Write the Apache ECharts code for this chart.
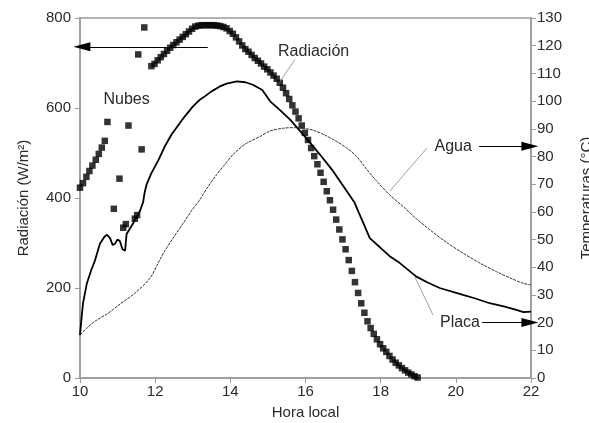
<!DOCTYPE html>
<html><head><meta charset="utf-8">
<script src="https://cdn.jsdelivr.net/npm/echarts@6/dist/echarts.min.js"></script>
<style>html,body{margin:0;padding:0;background:#fff}#c{width:589px;height:423px}</style>
</head><body><div id="c"></div>
<script>
// ---- data ----
const radMorning = [[10.0,423],[10.08,433],[10.17,447],[10.25,460],[10.33,472],[10.42,485],[10.5,498],[10.58,512],[10.66,527]];
const radClouds = [[10.73,569],[10.9,376],[11.05,443],[11.15,334],[11.22,342],[11.29,561],[11.46,354],[11.52,362],[11.55,719],[11.64,508],[11.71,779]];
const radAfternoonStart = 11.9;      // first reading of the continuous afternoon series
const radAfternoonStep = 5 / 60;     // readings every 5 minutes
const radAfternoon = [693,698,706,713,720,727,734,740,746,752,758,764,770,776,781,783,784,784,784,784,784,783,782,780,777,771,765,757,748,739,731,725,718,711,705,699,692,686,679,672,665,656,645,633,620,606,592,577,561,545,529,511,493,475,456,436,415,395,374,352,330,308,286,262,238,213,189,166,145,126,111,98,86,75,66,58,49,41,34,28,22,17,12,8,4,1];
const placaHours = [10.0,10.03,10.08,10.18,10.3,10.4,10.53,10.65,10.72,10.8,10.87,10.93,11.0,11.06,11.13,11.2,11.24,11.33,11.42,11.5,11.6,11.68,11.72,11.77,11.9,12.08,12.25,12.44,12.6,12.79,13.0,13.19,13.32,13.5,13.72,13.9,14.17,14.4,14.6,14.85,15.06,15.3,15.59,15.94,16.39,16.74,17.1,17.3,17.41,17.54,17.71,17.98,18.24,18.51,18.95,19.25,19.57,20.19,20.5,20.9,21.3,21.61,21.8,22.0];
const placaTemp  = [15.5,20,27,34,39,42.5,48.5,51,51.7,50.5,48,48.5,50,49.5,46.5,46,52,54,56,58,60.5,63.5,67,69.8,74,78.5,83.5,88,91,94.5,98,100.5,101.7,103.5,105.3,106.3,107.1,106.8,105.9,104,99.9,97,93.3,87.9,80.6,74.6,67.4,63.5,60,55.9,50.5,47.2,44,41.5,36.6,34.5,32.5,30,28.8,27,25.8,24.6,23.8,24.0];
const aguaHours = [10.0,10.18,10.4,10.75,10.98,11.2,11.46,11.86,12.08,12.26,12.5,12.75,13.0,13.19,13.4,13.64,13.86,14.08,14.4,14.79,15.06,15.41,15.7,16.03,16.2,16.5,16.83,17.1,17.36,17.62,17.9,18.25,18.6,18.95,19.31,19.75,20.19,20.6,21.08,21.5,21.79,22.0];
const aguaTemp  = [15.5,18,20.5,23.4,25.8,28,30.6,36,41.5,46,51,56,61,64.4,69,73.5,77.2,80.8,84.5,87.2,89.2,90.2,90.4,90,89.5,87.8,85.4,83,80,75.5,71,66,61.9,57.5,53.5,49,45.1,41.8,38.4,35.8,34.2,33.6];
const xTickLabels = ['10','12','14','16','18','20','22'];

// ---- build ----
const radData = radMorning.concat(radClouds,
  radAfternoon.map((v, i) => [radAfternoonStart + i * radAfternoonStep, v]));
const placaData = placaHours.map((h, i) => [h, placaTemp[i]]);
const aguaData = aguaHours.map((h, i) => [h, aguaTemp[i]]);

const FONT = 'Liberation Sans';
const TXT = '#2a2a2a';
const AX = '#9a9a9a';

const chart = echarts.init(document.getElementById('c'), null, {renderer: 'canvas'});
const axisCommon = {
  axisLine: {show: true, lineStyle: {color: AX, width: 1.5}},
  axisTick: {show: true, length: 5, lineStyle: {color: AX, width: 1}},
  splitLine: {show: false},
  nameTextStyle: {fontFamily: FONT, fontSize: 15, color: TXT},
};
const option = {
  animation: false,
  backgroundColor: '#fff',
  grid: {left: 80, right: 58, top: 18, bottom: 45, show: true, borderColor: AX, borderWidth: 1.5,
    containLabel: false, outerBoundsMode: 'none'},
  xAxis: Object.assign({}, axisCommon, {
    type: 'value', min: 10, max: 22, interval: 2,
    name: 'Hora local', nameLocation: 'middle', nameGap: 27,
    axisLabel: {fontFamily: FONT, fontSize: 15, color: TXT, margin: 6,
      formatter: v => xTickLabels[(v - 10) / 2] ?? ''},
  }),
  yAxis: [
    Object.assign({}, axisCommon, {
      type: 'value', min: 0, max: 800, interval: 200, position: 'left',
      name: 'Radiación (W/m²)', nameLocation: 'middle', nameGap: 49,
      axisLabel: {fontFamily: FONT, fontSize: 15, color: TXT, margin: 9},
    }),
    Object.assign({}, axisCommon, {
      type: 'value', min: 0, max: 130, interval: 10, position: 'right',
      name: 'Temperaturas (°C)', nameLocation: 'middle', nameGap: 48, nameRotate: 90,
      axisLabel: {fontFamily: FONT, fontSize: 15, color: TXT, margin: 6},
    }),
  ],
  series: [
    {
      name: 'Radiación', type: 'scatter', yAxisIndex: 0, data: radData,
      symbol: 'rect', symbolSize: 6.5, itemStyle: {color: '#000'}, silent: true,
      markLine: {
        silent: true, animation: false, label: {show: false},
        data: [
          [{coord: [13.4, 736], symbol: 'none'}, {coord: [10.05, 736], symbol: 'triangle', symbolSize: [9, 17]}],
          [{coord: [15.72, 708], symbol: 'none'}, {coord: [15.32, 659], symbol: 'none', lineStyle: {color: '#888', width: 0.8}}],
        ],
        lineStyle: {color: '#000', width: 1, type: 'solid'},
      },
    },
    {
      name: 'Placa', type: 'line', yAxisIndex: 1, data: placaData, showSymbol: false,
      smooth: false, lineStyle: {color: '#000', width: 1.8},
      markLine: {
        silent: true, animation: false, label: {show: false},
        data: [
          [{coord: [20.7, 20], symbol: 'none'}, {coord: [21.97, 20], symbol: 'triangle', symbolSize: [9, 17]}],
          [{coord: [19.39, 22.8], symbol: 'none'}, {coord: [18.91, 36.5], symbol: 'none', lineStyle: {color: '#888', width: 0.8}}],
        ],
        lineStyle: {color: '#000', width: 1, type: 'solid'},
      },
    },
    {
      name: 'Agua', type: 'line', yAxisIndex: 1, data: aguaData, showSymbol: false,
      smooth: 0.3, lineStyle: {color: '#333', width: 1, type: [3, 1]},
      markLine: {
        silent: true, animation: false, label: {show: false},
        data: [
          [{coord: [20.62, 83.7], symbol: 'none'}, {coord: [21.97, 83.7], symbol: 'triangle', symbolSize: [9, 17]}],
          [{coord: [19.23, 83.0], symbol: 'none'}, {coord: [18.25, 67.6], symbol: 'none', lineStyle: {color: '#888', width: 0.8}}],
        ],
        lineStyle: {color: '#000', width: 1, type: 'solid'},
      },
    },
  ],
};
chart.setOption(option);

// text annotations anchored in data coordinates
const notes = [
  {text: 'Radiación', at: [15.27, 726], axis: 0, align: 'left'},
  {text: 'Nubes', at: [11.24, 619], axis: 0, align: 'center'},
  {text: 'Agua', at: [19.93, 83.7], axis: 1, align: 'center'},
  {text: 'Placa', at: [20.11, 20], axis: 1, align: 'center'},
];
const graphics = notes.map(n => {
  const p = chart.convertToPixel({xAxisIndex: 0, yAxisIndex: n.axis}, n.at);
  return {type: 'text', x: p[0], y: p[1], silent: true,
    style: {text: n.text, fill: TXT, font: '16px "' + FONT + '"', align: n.align, verticalAlign: 'middle'}};
});
chart.setOption({graphic: graphics});
</script>
</body></html>
